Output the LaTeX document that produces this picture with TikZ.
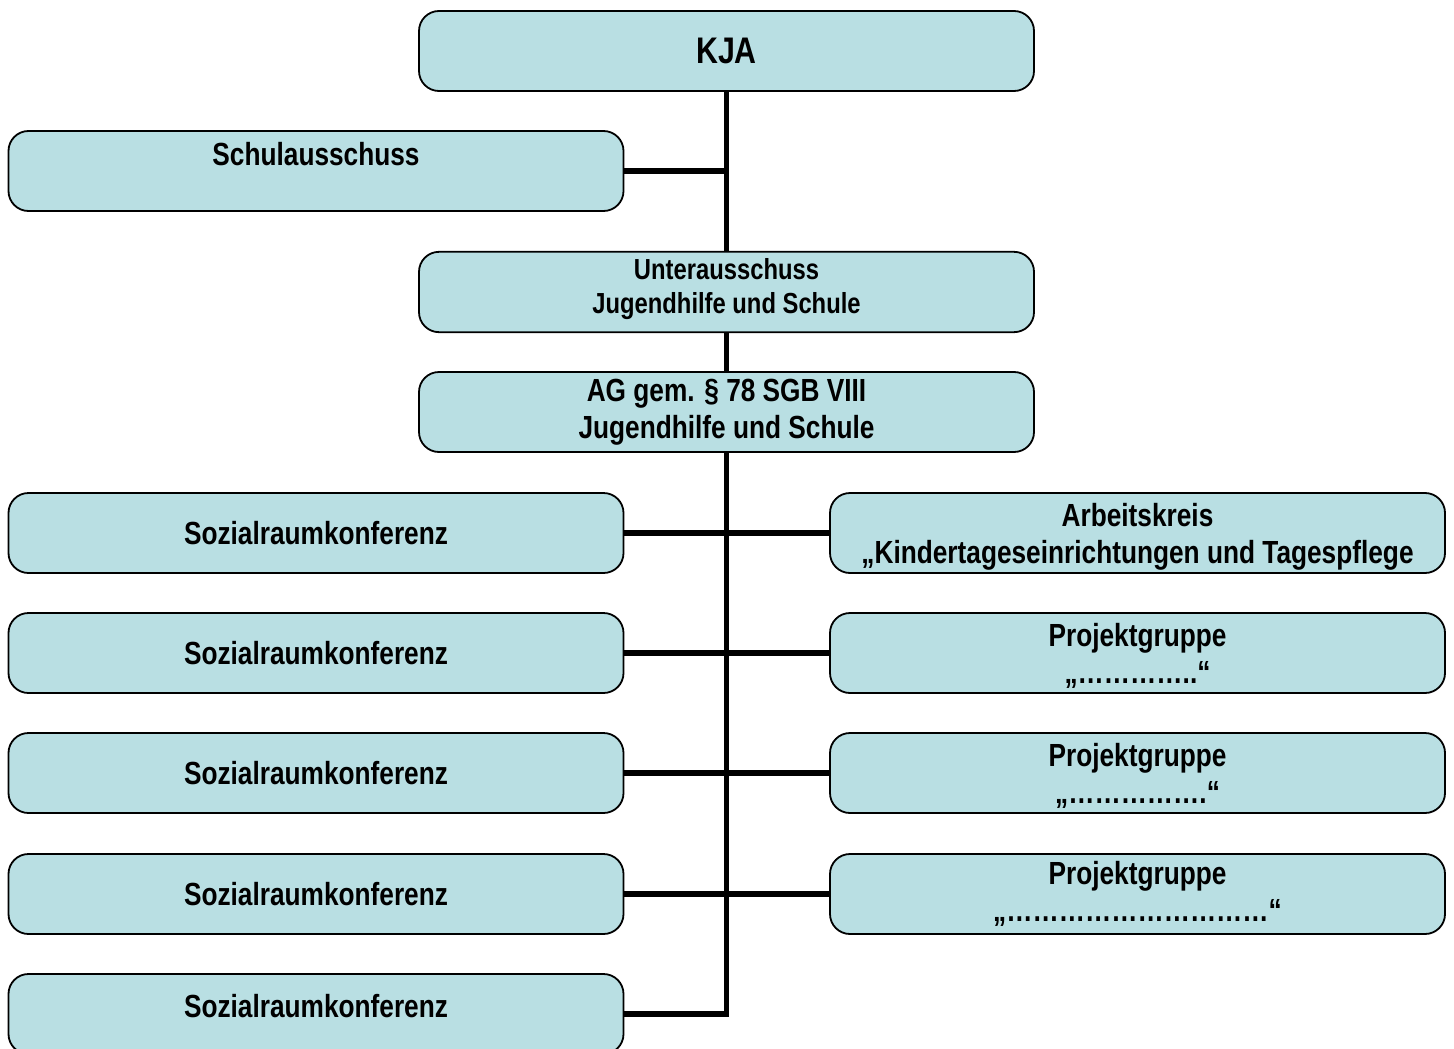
\documentclass[tikz,border=0pt]{standalone}
\usepackage{fontspec}
\setmainfont{Liberation Sans}[FakeStretch=0.82]
\definecolor{boxblue}{RGB}{185,223,227}
\tikzset{
	box/.style={draw=black, line width=0.9pt, fill=boxblue, rounded corners=10pt,
		minimum width=307.5pt, minimum height=40pt, align=center,
		font=\bfseries\fontsize{16}{18.5}\selectfont},
	conn/.style={line width=2.6pt, black}
}
\begin{document}
\begin{tikzpicture}[x=0.5pt, y=-0.5pt]
		\useasboundingbox (0,0) rectangle (1454,1048);
		\node[box, font=\bfseries\fontsize{18.5}{20}\selectfont] at (726.5,51) (KJA) {KJA};
		\node[box, text depth=17pt] at (316,171) (Schul) {Schulausschuss};
		\node[box, font=\bfseries\fontsize{14.5}{17}\selectfont, text depth=6pt] at (726.5,292) (Unter) {Unterausschuss\\Jugendhilfe und Schule};
		\node[box] at (726.5,412) (AG) {AG gem. \S\ 78 SGB VIII\\Jugendhilfe und Schule};
		
		\node[box] at (316,533) (SRK1) {Sozialraumkonferenz};
		\node[box] at (316,653) (SRK2) {Sozialraumkonferenz};
		\node[box] at (316,773) (SRK3) {Sozialraumkonferenz};
		\node[box] at (316,894) (SRK4) {Sozialraumkonferenz};
		\node[box, text depth=8pt] at (316,1014) (SRK5) {Sozialraumkonferenz};
		
		\node[box, text depth=0pt] at (1137.5,533) (AK) {Arbeitskreis\\„Kindertageseinrichtungen und Tagespflege};
		\node[box, text depth=-1.5pt] at (1137.5,653) (PG1) {Projektgruppe\\„…………..“};
		\node[box, text depth=-1.5pt] at (1137.5,773) (PG2) {Projektgruppe\\„…………….“};
		\node[box, text depth=3pt] at (1137.5,894) (PG3) {Projektgruppe\\„…………………………“};
		
		\coordinate (bend) at (AG.south |- SRK5.east);
		\draw[conn] (KJA) -- (Unter);
		\draw[conn] (Unter) -- (AG);
		\draw[conn] (AG.south) -- (bend) -- (SRK5.east);
		\draw[conn] (Schul.east) -- (Schul.east -| KJA.south);
		\foreach \l/\r in {SRK1/AK, SRK2/PG1, SRK3/PG2, SRK4/PG3}
			\draw[conn] (\l.east) -- (\r.west);
\end{tikzpicture}
\end{document}
